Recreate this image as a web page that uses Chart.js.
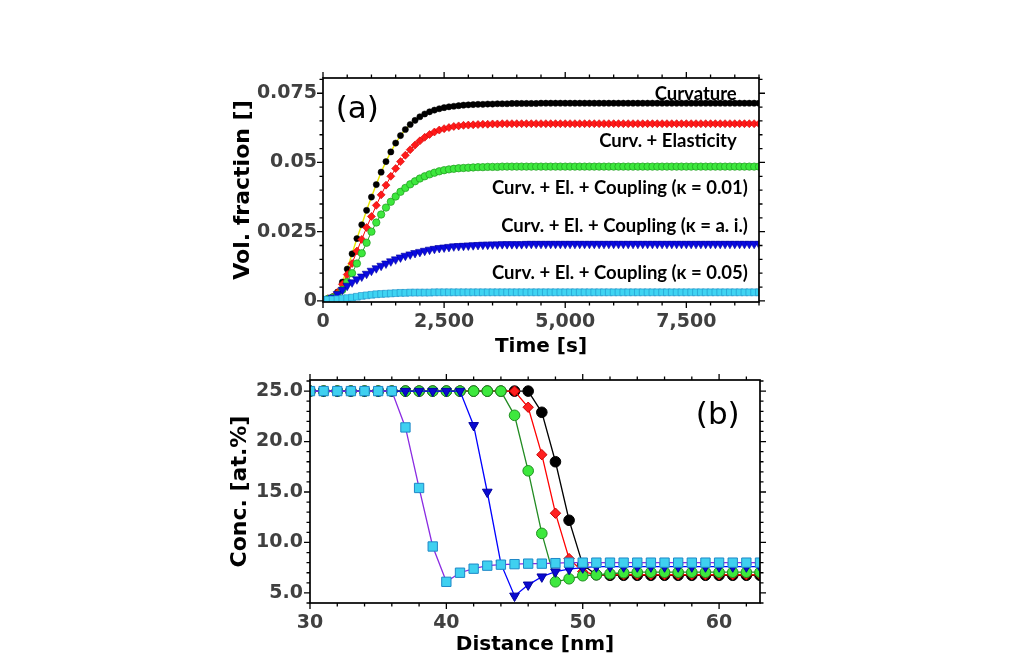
<!DOCTYPE html>
<html>
<head>
<meta charset="utf-8">
<script src="https://cdn.jsdelivr.net/npm/chart.js@4.4.1/dist/chart.umd.min.js"></script>
<style>
  body { margin: 0; background: #fff; width: 1009px; height: 671px; overflow: hidden; }
  #boxA { position: absolute; left: 0; top: 0; width: 1009px; height: 365px; }
  #boxB { position: absolute; left: 0; top: 360px; width: 1009px; height: 311px; }
</style>
</head>
<body>
<div id="boxA"><canvas id="volFraction" width="1009" height="365"></canvas></div>
<div id="boxB"><canvas id="concProfile" width="1009" height="311"></canvas></div>
<script>
// (a) volume fraction vs time, one sample every 100 s
const timeS = [0,100,200,300,400,500,600,700,800,900,1000,1100,1200,1300,1400,1500,1600,1700,1800,1900,
  2000,2100,2200,2300,2400,2500,2600,2700,2800,2900,3000,3100,3200,3300,3400,3500,3600,3700,3800,3900,
  4000,4100,4200,4300,4400,4500,4600,4700,4800,4900,5000,5100,5200,5300,5400,5500,5600,5700,5800,5900,
  6000,6100,6200,6300,6400,6500,6600,6700,6800,6900,7000,7100,7200,7300,7400,7500,7600,7700,7800,7900,
  8000,8100,8200,8300,8400,8500,8600,8700,8800,8900,9000];

const volCurvature = [0.0005,0.0008,0.0015,0.0032,0.0068,0.0115,0.0170,0.0225,0.0275,0.0327,
  0.0375,0.0420,0.0465,0.0503,0.0538,0.0570,0.0597,0.0619,0.0637,0.0652,
  0.0665,0.0675,0.0683,0.0689,0.0694,0.0698,0.0701,0.0703,0.0705,0.0707,
  0.0708,0.0709,0.0710,0.0710,0.0711,0.0711,0.0712,0.0712,0.0712,0.0713,
  0.0713,0.0713,0.0713,0.0713,0.0713,0.0714,0.0714,0.0714,0.0714,0.0714,
  0.0714,0.0714,0.0714,0.0714,0.0714,0.0714,0.0714,0.0714,0.0714,0.0714,
  0.0714,0.0714,0.0714,0.0714,0.0714,0.0714,0.0714,0.0714,0.0714,0.0714,
  0.0714,0.0714,0.0714,0.0714,0.0714,0.0714,0.0714,0.0714,0.0714,0.0714,
  0.0714,0.0714,0.0714,0.0714,0.0714,0.0714,0.0714,0.0714,0.0714,0.0714,0.0714];

const volElastic = [0.0005,0.0008,0.0014,0.0030,0.0060,0.0095,0.0135,0.0180,0.0222,0.0265,
  0.0305,0.0345,0.0383,0.0418,0.0450,0.0478,0.0503,0.0526,0.0546,0.0563,
  0.0578,0.0591,0.0601,0.0610,0.0617,0.0622,0.0626,0.0630,0.0632,0.0634,
  0.0635,0.0636,0.0637,0.0638,0.0638,0.0639,0.0639,0.0640,0.0640,0.0640,
  0.0640,0.0640,0.0640,0.0640,0.0640,0.0640,0.0640,0.0640,0.0640,0.0640,
  0.0640,0.0640,0.0640,0.0640,0.0640,0.0640,0.0640,0.0640,0.0640,0.0640,
  0.0640,0.0640,0.0640,0.0640,0.0640,0.0640,0.0640,0.0640,0.0640,0.0640,
  0.0640,0.0640,0.0640,0.0640,0.0640,0.0640,0.0640,0.0640,0.0640,0.0640,
  0.0640,0.0640,0.0640,0.0640,0.0640,0.0640,0.0640,0.0640,0.0640,0.0640,0.0640];

const volK001 = [0.0004,0.0007,0.0012,0.0022,0.0040,0.0068,0.0100,0.0135,0.0172,0.0210,
  0.0250,0.0283,0.0312,0.0337,0.0358,0.0377,0.0394,0.0408,0.0421,0.0432,
  0.0442,0.0450,0.0457,0.0463,0.0468,0.0472,0.0475,0.0477,0.0479,0.0480,
  0.0481,0.0482,0.0483,0.0483,0.0484,0.0484,0.0484,0.0485,0.0485,0.0485,
  0.0485,0.0485,0.0485,0.0485,0.0485,0.0485,0.0485,0.0485,0.0485,0.0485,
  0.0485,0.0485,0.0485,0.0485,0.0485,0.0485,0.0485,0.0485,0.0485,0.0485,
  0.0485,0.0485,0.0485,0.0485,0.0485,0.0485,0.0485,0.0485,0.0485,0.0485,
  0.0485,0.0485,0.0485,0.0485,0.0485,0.0485,0.0485,0.0485,0.0485,0.0485,
  0.0485,0.0485,0.0485,0.0485,0.0485,0.0485,0.0485,0.0485,0.0485,0.0485,0.0485];

const volKai = [0.0004,0.0006,0.0012,0.0025,0.0040,0.0055,0.0067,0.0078,0.0088,0.0098,
  0.0109,0.0118,0.0127,0.0135,0.0143,0.0150,0.0157,0.0163,0.0168,0.0173,
  0.0177,0.0181,0.0185,0.0188,0.0191,0.0193,0.0195,0.0197,0.0198,0.0199,
  0.0200,0.0201,0.0202,0.0203,0.0203,0.0204,0.0204,0.0205,0.0205,0.0205,
  0.0205,0.0205,0.0206,0.0206,0.0206,0.0206,0.0206,0.0206,0.0206,0.0206,
  0.0206,0.0206,0.0206,0.0206,0.0206,0.0206,0.0206,0.0206,0.0206,0.0206,
  0.0206,0.0206,0.0206,0.0206,0.0206,0.0206,0.0206,0.0206,0.0206,0.0206,
  0.0206,0.0206,0.0206,0.0206,0.0206,0.0206,0.0206,0.0206,0.0206,0.0206,
  0.0206,0.0206,0.0206,0.0206,0.0206,0.0206,0.0206,0.0206,0.0206,0.0206,0.0206];

const volK005 = [0.0004,0.0004,0.0005,0.0006,0.0008,0.0010,0.0012,0.0015,0.0018,0.0020,
  0.0022,0.0024,0.0025,0.0026,0.0027,0.0028,0.0029,0.0029,0.0030,0.0030,
  0.0030,0.0030,0.0030,0.0031,0.0031,0.0031,0.0031,0.0031,0.0031,0.0031,
  0.0031,0.0031,0.0031,0.0031,0.0031,0.0031,0.0031,0.0031,0.0031,0.0031,
  0.0031,0.0031,0.0031,0.0031,0.0031,0.0031,0.0031,0.0031,0.0031,0.0031,
  0.0031,0.0031,0.0031,0.0031,0.0031,0.0031,0.0031,0.0031,0.0031,0.0031,
  0.0031,0.0031,0.0031,0.0031,0.0031,0.0031,0.0031,0.0031,0.0031,0.0031,
  0.0031,0.0031,0.0031,0.0031,0.0031,0.0031,0.0031,0.0031,0.0031,0.0031,
  0.0031,0.0031,0.0031,0.0031,0.0031,0.0031,0.0031,0.0031,0.0031,0.0031,0.0031];

// (b) concentration profile vs distance
const distNm = [30,31,32,33,34,35,36,37,38,39,40,41,42,43,44,45,46,47,48,49,50,51,52,53,54,55,56,57,58,59,60,61,62,63];
const concCurvature = [25.0,25.0,25.0,25.0,25.0,25.0,25.0,25.0,25.0,25.0,25.0,25.0,25.0,25.0,25.0,25.0,25.0,
  22.9,18.0,12.2,7.8,6.8,6.75,6.75,6.75,6.75,6.75,6.75,6.75,6.75,6.75,6.75,6.75,6.75];
const concElastic = [25.0,25.0,25.0,25.0,25.0,25.0,25.0,25.0,25.0,25.0,25.0,25.0,25.0,25.0,25.0,25.0,
  23.4,18.7,12.9,8.4,7.1,6.8,6.8,6.8,6.8,6.8,6.8,6.8,6.8,6.8,6.8,6.8,6.8,6.8];
const concK001 = [25.0,25.0,25.0,25.0,25.0,25.0,25.0,25.0,25.0,25.0,25.0,25.0,25.0,25.0,25.0,
  22.6,17.1,10.9,6.1,6.4,6.7,6.8,6.9,7.0,7.05,7.05,7.05,7.05,7.05,7.05,7.05,7.05,7.05,7.05];
const concKai = [25.0,25.0,25.0,25.0,25.0,25.0,25.0,25.0,25.0,25.0,25.0,25.0,
  21.6,15.0,7.9,4.7,5.8,6.6,7.1,7.35,7.5,7.6,7.6,7.6,7.6,7.6,7.6,7.6,7.6,7.6,7.6,7.6,7.6,7.6];
const concK005 = [25.0,25.0,25.0,25.0,25.0,25.0,25.0,
  21.4,15.4,9.6,6.1,7.0,7.4,7.7,7.8,7.85,7.9,7.9,7.95,8.0,8.0,8.0,8.0,8.0,8.0,8.0,8.0,8.0,8.0,8.0,8.0,8.0,8.0,8.0];

const ticksTime = [0, 2500, 5000, 7500];
const ticksVol = [0, 0.025, 0.05, 0.075];
const ticksDist = [30, 40, 50, 60];
const ticksConc = [5, 10, 15, 20, 25];

const seriesNames = ['Curvature', 'Curv. + Elasticity', 'Curv. + El. + Coupling (\u03ba = 0.01)',
  'Curv. + El. + Coupling (\u03ba = a. i.)', 'Curv. + El. + Coupling (\u03ba = 0.05)'];

const tickFont = { family: 'DejaVu Sans', weight: 'bold', size: 19 };
const titleFontX = { family: 'DejaVu Sans', weight: 'bold', size: 20 };
const titleFontY = { family: 'DejaVu Sans', weight: 'bold', size: 22 };

// frame round the plot area with outward major / minor ticks on all four sides
const frameTicks = {
  id: 'frameTicks',
  afterDatasetsDraw(chart, args, o) {
    const { ctx, chartArea: a } = chart;
    const x = chart.scales.x, y = chart.scales.y;
    ctx.save();
    ctx.strokeStyle = '#000';
    ctx.lineWidth = 1.7;
    ctx.strokeRect(a.left, a.top, a.right - a.left, a.bottom - a.top);
    ctx.lineWidth = 1.3;
    ctx.beginPath();
    const rx = Math.round(o.xMajor / o.xMinor);
    for (let k = Math.ceil(x.min / o.xMinor - 1e-9); k * o.xMinor <= x.max + 1e-9; k++) {
      const px = x.getPixelForValue(k * o.xMinor);
      const len = k % rx === 0 ? 6 : 3.5;
      ctx.moveTo(px, a.bottom); ctx.lineTo(px, a.bottom + len);
      ctx.moveTo(px, a.top); ctx.lineTo(px, a.top - len);
    }
    const ry = Math.round(o.yMajor / o.yMinor);
    for (let k = Math.ceil(y.min / o.yMinor - 1e-9); k * o.yMinor <= y.max + 1e-9; k++) {
      const py = y.getPixelForValue(k * o.yMinor);
      const len = k % ry === 0 ? 6 : 3.5;
      ctx.moveTo(a.left, py); ctx.lineTo(a.left - len, py);
      ctx.moveTo(a.right, py); ctx.lineTo(a.right + len, py);
    }
    ctx.stroke();
    ctx.restore();
  }
};

// text labels placed in data coordinates
const notes = {
  id: 'notes',
  afterDraw(chart, args, o) {
    const { ctx } = chart;
    ctx.save();
    ctx.fillStyle = '#000';
    ctx.textBaseline = 'middle';
    o.items.forEach(n => {
      ctx.font = n.font;
      ctx.textAlign = n.align;
      ctx.fillText(n.text, chart.scales.x.getPixelForValue(n.x), chart.scales.y.getPixelForValue(n.y));
    });
    ctx.restore();
  }
};

function axisX(min, max, ticks, fmt, title, height) {
  return {
    type: 'linear', min: min, max: max,
    grid: { display: false, drawTicks: false }, border: { display: false },
    afterBuildTicks: s => { s.ticks = ticks.map(v => ({ value: v })); },
    afterFit: s => { s.height = height; },
    ticks: { font: tickFont, color: '#404040', padding: 9, maxRotation: 0, autoSkip: false, callback: fmt },
    title: { display: true, text: title, font: titleFontX, color: '#000' }
  };
}
function axisY(min, max, ticks, fmt, title, width, pad) {
  return {
    type: 'linear', min: min, max: max,
    grid: { display: false, drawTicks: false }, border: { display: false },
    afterBuildTicks: s => { s.ticks = ticks.map(v => ({ value: v })); },
    afterFit: s => { s.width = width; },
    ticks: { font: tickFont, color: '#404040', padding: pad, autoSkip: false, callback: fmt },
    title: { display: true, text: title, font: titleFontY, color: '#000' }
  };
}

const noteFont = 'bold 18.5px Lato';

// Chart (a)
new Chart(document.getElementById('volFraction'), {
  type: 'line',
  data: {
    labels: timeS,
    datasets: [
      { label: seriesNames[0], data: volCurvature, order: 5, borderColor: '#e8e800', borderWidth: 1.4,
        pointStyle: 'circle', pointRadius: 3.1, pointBackgroundColor: '#000', pointBorderColor: '#000', pointBorderWidth: 0.5 },
      { label: seriesNames[1], data: volElastic, order: 4, borderColor: '#ff0000', borderWidth: 1,
        pointStyle: 'rectRot', pointRadius: 4, pointBackgroundColor: '#ff1a1a', pointBorderColor: '#d00000', pointBorderWidth: 0.6 },
      { label: seriesNames[2], data: volK001, order: 3, borderColor: '#22a022', borderWidth: 1,
        pointStyle: 'circle', pointRadius: 3.7, pointBackgroundColor: '#3de83d', pointBorderColor: '#1f9a1f', pointBorderWidth: 0.7 },
      { label: seriesNames[3], data: volKai, order: 2, borderColor: '#0000ff', borderWidth: 1,
        pointStyle: 'triangle', rotation: 180, pointRadius: 5, pointBackgroundColor: '#0a0ae0', pointBorderColor: '#0000a0', pointBorderWidth: 0.6 },
      { label: seriesNames[4], data: volK005, order: 1, borderColor: '#2aa0e0', borderWidth: 1,
        pointStyle: 'rect', pointRadius: 4.8, pointBackgroundColor: '#3fd4f2', pointBorderColor: '#2090c8', pointBorderWidth: 0.6 }
    ]
  },
  options: {
    responsive: false, animation: false,
    layout: { padding: { left: 226, top: 78, right: 250, bottom: 2 } },
    plugins: {
      legend: { display: false }, tooltip: { enabled: false },
      frameTicks: { xMajor: 2500, xMinor: 500, yMajor: 0.025, yMinor: 0.005 },
      notes: { items: [
        { text: '(a)', x: 707, y: 0.069, align: 'center', font: '31px "DejaVu Sans"' },
        { text: seriesNames[0], x: 8540, y: 0.0748, align: 'right', font: noteFont },
        { text: seriesNames[1], x: 8540, y: 0.0576, align: 'right', font: noteFont },
        { text: seriesNames[2], x: 8770, y: 0.0407, align: 'right', font: noteFont },
        { text: seriesNames[3], x: 8770, y: 0.0269, align: 'right', font: noteFont },
        { text: seriesNames[4], x: 8770, y: 0.0100, align: 'right', font: noteFont }
      ] }
    },
    scales: {
      x: axisX(0, 9000, ticksTime, v => v.toLocaleString('en-US'), 'Time [s]', 61),
      y: axisY(-0.0004, 0.0805, ticksVol, v => v === 0 ? '0' : String(v), 'Vol. fraction []', 97, 6)
    }
  },
  plugins: [frameTicks, notes]
});

// Chart (b)
new Chart(document.getElementById('concProfile'), {
  type: 'line',
  data: {
    labels: distNm,
    datasets: [
      { label: seriesNames[0], data: concCurvature, order: 5, borderColor: '#000', borderWidth: 1.3,
        pointStyle: 'circle', pointRadius: 5.3, pointBackgroundColor: '#000', pointBorderColor: '#000', pointBorderWidth: 1 },
      { label: seriesNames[1], data: concElastic, order: 4, borderColor: '#ff0000', borderWidth: 1.3,
        pointStyle: 'rectRot', pointRadius: 5.2, pointBackgroundColor: '#ff2020', pointBorderColor: '#c80000', pointBorderWidth: 1 },
      { label: seriesNames[2], data: concK001, order: 3, borderColor: '#228b22', borderWidth: 1.3,
        pointStyle: 'circle', pointRadius: 5.3, pointBackgroundColor: '#3de83d', pointBorderColor: '#1f8f1f', pointBorderWidth: 1 },
      { label: seriesNames[3], data: concKai, order: 2, borderColor: '#0000ff', borderWidth: 1.3,
        pointStyle: 'triangle', rotation: 180, pointRadius: 5.6, pointBackgroundColor: '#0a0ad0', pointBorderColor: '#0000a0', pointBorderWidth: 1 },
      { label: seriesNames[4], data: concK005, order: 1, borderColor: '#8a2be2', borderWidth: 1.3,
        pointStyle: 'rect', pointRadius: 6.6, pointBackgroundColor: '#3fd0f0', pointBorderColor: '#1e88c8', pointBorderWidth: 1 }
    ]
  },
  options: {
    responsive: false, animation: false,
    layout: { padding: { left: 223, top: 20, right: 249, bottom: 10 } },
    plugins: {
      legend: { display: false }, tooltip: { enabled: false },
      frameTicks: { xMajor: 10, xMinor: 2, yMajor: 5, yMinor: 1 },
      notes: { items: [
        { text: '(b)', x: 59.9, y: 22.5, align: 'center', font: '31px "DejaVu Sans"' }
      ] }
    },
    scales: {
      x: axisX(30, 63, ticksDist, v => String(v), 'Distance [nm]', 58),
      y: axisY(4.0, 26.1, ticksConc, v => v.toFixed(1), 'Conc. [at.%]', 87, 7)
    }
  },
  plugins: [frameTicks, notes]
});
</script>
</body>
</html>
